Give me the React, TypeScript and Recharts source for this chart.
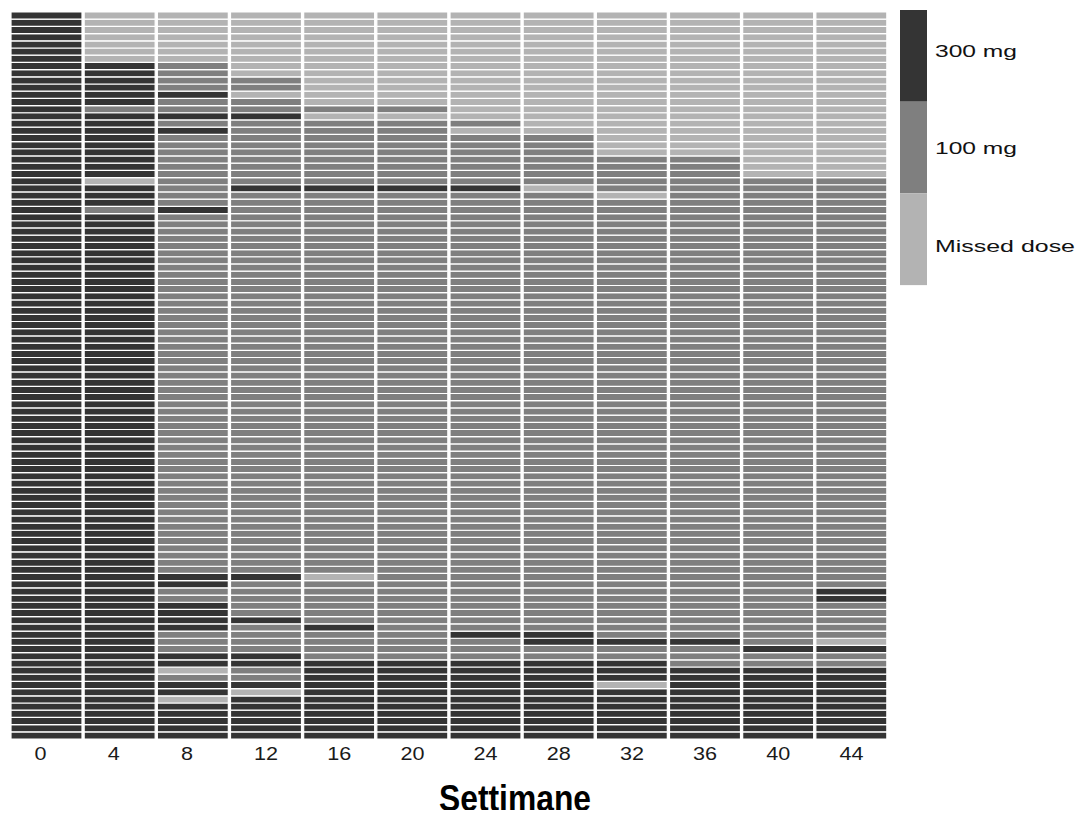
import { BarChart, Bar, XAxis, YAxis, Cell, Label } from 'recharts';

type Dose = 'D' | 'M' | 'L'; // D = 300 mg, M = 100 mg, L = missed dose

const WEEKS = ['0', '4', '8', '12', '16', '20', '24', '28', '32', '36', '40', '44'];
const N_PATIENTS = 101;

// dose per patient, written as runs from the top row down to the bottom row
const week0: [Dose, number][] = [['D', 101]];
const week4: [Dose, number][] = [['L', 7], ['D', 6], ['M', 1], ['D', 9], ['L', 1], ['D', 3], ['M', 1], ['D', 73]];
const week8: [Dose, number][] = [
  ['L', 7], ['M', 4], ['D', 1], ['M', 2], ['D', 1], ['M', 1], ['D', 1], ['M', 10], ['D', 1], ['M', 50],
  ['D', 2], ['M', 2], ['D', 4], ['M', 3], ['D', 2], ['L', 1], ['M', 1], ['D', 2], ['L', 1], ['D', 5],
];
const week12: [Dose, number][] = [
  ['L', 9], ['M', 2], ['L', 1], ['M', 2], ['D', 1], ['M', 9], ['D', 1], ['M', 53], ['D', 1], ['M', 5],
  ['D', 1], ['M', 4], ['D', 2], ['M', 2], ['D', 1], ['L', 1], ['D', 6],
];
const week16: [Dose, number][] = [
  ['L', 13], ['M', 1], ['L', 1], ['M', 9], ['D', 1], ['M', 53], ['L', 1], ['M', 6], ['D', 1], ['M', 4], ['D', 11],
];
const week20: [Dose, number][] = [['L', 13], ['M', 1], ['L', 1], ['M', 9], ['D', 1], ['M', 65], ['D', 11]];
const week24: [Dose, number][] = [
  ['L', 15], ['M', 1], ['L', 1], ['M', 7], ['D', 1], ['M', 61], ['D', 1], ['M', 3], ['D', 11],
];
const week28: [Dose, number][] = [['L', 17], ['M', 7], ['L', 1], ['M', 61], ['D', 2], ['M', 2], ['D', 11]];
const week32: [Dose, number][] = [
  ['L', 20], ['M', 5], ['L', 1], ['M', 61], ['D', 1], ['M', 2], ['D', 3], ['L', 1], ['D', 7],
];
const week36: [Dose, number][] = [['L', 20], ['M', 67], ['D', 1], ['M', 3], ['D', 10]];
const week40: [Dose, number][] = [['L', 23], ['M', 65], ['D', 1], ['M', 2], ['D', 10]];
const week44: [Dose, number][] = [
  ['L', 23], ['M', 57], ['D', 2], ['M', 5], ['L', 1], ['D', 1], ['M', 2], ['D', 10],
];

const RUNS = [week0, week4, week8, week12, week16, week20, week24, week28, week32, week36, week40, week44];

const DOSE_COLORS: Record<Dose, string> = { D: '#343434', M: '#7f7f7f', L: '#b3b3b3' };
const LEGEND: { dose: Dose; label: string }[] = [
  { dose: 'D', label: '300 mg' },
  { dose: 'M', label: '100 mg' },
  { dose: 'L', label: 'Missed dose' },
];

function expand(runs: [Dose, number][]) {
  const out: Dose[] = [];
  for (const [d, n] of runs) for (let i = 0; i < n; i++) out.push(d);
  return out;
}

const grid = RUNS.map(expand); // grid[week][patient], patient 0 = top row
const rowKeys = Array.from({ length: N_PATIENTS }, (_, i) => `p${i}`);
const data = WEEKS.map((week) => {
  const row: Record<string, string | number> = { week };
  rowKeys.forEach((k) => (row[k] = 1));
  return row;
});

const FONT = '"Liberation Sans", Arial, sans-serif';

function WeekTick({ x, y, payload }: any) {
  const v = String(payload.value);
  return (
    <text
      transform={`translate(${x + (v.length === 1 ? -6 : 0)},${y}) scale(1.2,1)`}
      x={0}
      y={13}
      textAnchor="middle"
      fontSize={18}
      fill="#1a1a1a"
      fontFamily={FONT}
    >
      {v}
    </text>
  );
}

function TitleLabel({ viewBox }: any) {
  return (
    <text
      x={viewBox.x + viewBox.width / 2 + 66}
      y={viewBox.y + viewBox.height - 7}
      textAnchor="middle"
      fontSize={37}
      fontWeight={700}
      fill="#000"
      fontFamily={FONT}
      textLength={152}
      lengthAdjust="spacingAndGlyphs"
    >
      Settimane
    </text>
  );
}

function DoseLegend() {
  return (
    <svg width={183} height={290} style={{ position: 'absolute', left: 892, top: 8 }}>
      {LEGEND.map((item, i) => (
        <rect key={item.dose} x={0} y={2 + i * 91.7} width={27} height={91.7} fill={DOSE_COLORS[item.dose]} />
      ))}
      {LEGEND.map((item, i) => (
        <text
          key={item.label}
          x={35}
          y={[49, 146, 244][i]}
          fontSize={16.5}
          fill="#111"
          fontFamily={FONT}
          textLength={item.label.length > 6 ? 140 : 82}
          lengthAdjust="spacingAndGlyphs"
        >
          {item.label}
        </text>
      ))}
    </svg>
  );
}

export default function App() {
  return (
    <div style={{ position: 'relative', width: 1067, height: 818, margin: '-8px 0 -8px 0' }}>
      <BarChart
        width={1067}
        height={818}
        data={data}
        margin={{ top: 12, right: 187, left: 2, bottom: 0 }}
        barCategoryGap={1}
      >
        <XAxis dataKey="week" axisLine={false} tickLine={false} height={79} interval={0} tick={<WeekTick />}>
          <Label content={<TitleLabel />} />
        </XAxis>
        <YAxis hide domain={[0, N_PATIENTS]} />
        {[...rowKeys].reverse().map((k) => {
          const p = Number(k.slice(1));
          return (
            <Bar key={k} dataKey={k} stackId="dose" isAnimationActive={false}>
              {WEEKS.map((w, c) => (
                <Cell key={w} fill={DOSE_COLORS[grid[c][p]]} stroke="#ffffff" strokeWidth={1.2} />
              ))}
            </Bar>
          );
        })}
      </BarChart>
      <DoseLegend />
    </div>
  );
}
